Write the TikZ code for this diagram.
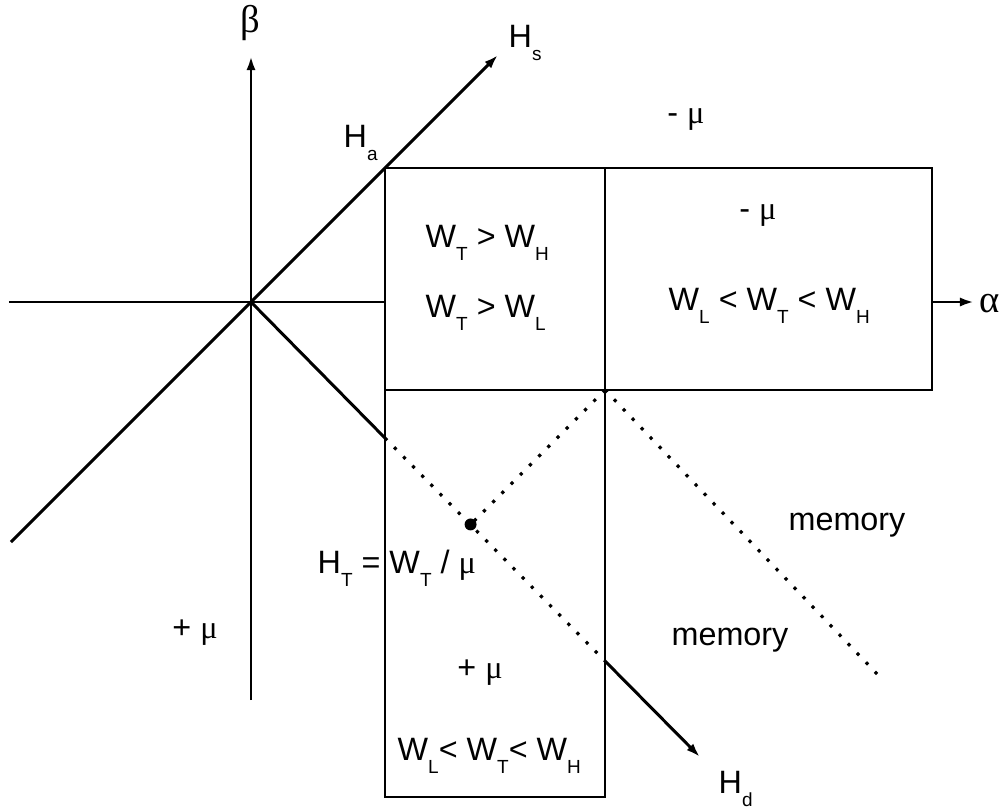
\documentclass[tikz,border=0pt]{standalone}
\usepackage{fontspec}
\setmainfont{Liberation Sans}
\newfontfamily\grk{Liberation Serif}
\usetikzlibrary{arrows.meta,positioning,calc}
\newcommand{\sbs}[1]{\raisebox{-3.9pt}{\fontsize{5.4}{6}\selectfont #1}}
\newcommand{\gmu}{{\grk μ}}
\tikzset{
  ax/.style={line width=0.85pt},
  axarr/.style={line width=0.85pt, -{Latex[length=4pt,width=2.6pt]}},
  wall/.style={line width=0.6pt},
  dotln/.style={line width=0.9pt, dash pattern=on 0.9pt off 2.8pt},
  lbl/.style={font=\fontsize{9.2}{11}\selectfont, inner sep=0pt},
  glbl/.style={font=\fontsize{11}{12}\selectfont\grk, inner sep=0pt},
}
\begin{document}
\begin{tikzpicture}[x=1cm,y=1cm]
\useasboundingbox (0,0) rectangle (10.04,8.07);
% axes and the two diagonals
\coordinate (O) at (2.51,5.05);
\coordinate (bbot) at (2.51,1.07);
\coordinate (btip) at (2.51,7.51);
\coordinate (aleft) at (0.09,5.05);
\coordinate (hslo) at (0.11,2.65);
\coordinate (hstip) at (4.98,7.52);
\coordinate (hdtip) at (7.0,0.50);
% region boxes
\coordinate (ca) at (3.85,6.39); \coordinate (cb) at (6.05,6.39); \coordinate (cc) at (9.32,6.39);
\coordinate (cd) at (3.85,4.17); \coordinate (ce) at (6.05,4.17); \coordinate (cf) at (9.32,4.17);
\coordinate (cg) at (3.85,0.10); \coordinate (ch) at (6.05,0.10);
\coordinate (axl) at (3.85,5.05); \coordinate (axr) at (9.32,5.05); \coordinate (atip) at (9.74,5.05);
\coordinate (hdin) at (3.85,3.69); \coordinate (hdout) at (6.05,1.46);
\coordinate (dl) at (3.85,1.97); \coordinate (mend) at (8.80,1.30);
\coordinate (HT) at (intersection of O--hdtip and ce--dl);
\draw[wall] (ca) rectangle (ce);
\draw[wall] (cb) rectangle (cf);
\draw[wall] (cd) rectangle (ch);
\draw[axarr] (bbot) -- (btip);
\draw[ax] (aleft) -- (axl);
\draw[axarr] (axr) -- (atip);
\draw[axarr] (hslo) -- (hstip);
\draw[ax] (O) -- (hdin);
\draw[dotln] (hdin) -- (hdout);
\draw[axarr] (hdout) -- (hdtip);
\draw[dotln] (ce) -- (HT);
\draw[dotln] (ce) -- (mend);
\fill (HT) circle (1.7pt);
% labels
\node[glbl] (beta) at (2.50,7.84) {β};
\node[glbl, anchor=west] (alpha) at (9.79,5.03) {α};
\node[lbl, anchor=base west] (hs) at (5.08,7.60) {H\sbs{s}};
\node[lbl, anchor=base west] (ha) at (3.43,6.60) {H\sbs{a}};
\node[lbl, anchor=base west] (hd) at (7.18,0.14) {H\sbs{d}};
\node[lbl] (mtop) at (6.86,6.87) {- \gmu};
\node[lbl] (mbox) at (7.58,5.91) {- \gmu};
\node[lbl, anchor=base west] (wh) at (4.25,5.60) {W\sbs{T} > W\sbs{H}};
\node[lbl, anchor=base west] (wl) at (4.25,4.90) {W\sbs{T} > W\sbs{L}};
\node[lbl, anchor=base west] (wmid) at (6.68,4.97) {W\sbs{L} < W\sbs{T} < W\sbs{H}};
\node[lbl, anchor=base west] (ht) at (3.17,2.34) {H\sbs{T} = W\sbs{T} / \gmu};
\node[lbl] (pbox) at (4.80,1.34) {+ \gmu};
\node[lbl] (pleft) at (1.95,1.74) {+ \gmu};
\node[lbl, anchor=base west] (wlow) at (3.97,0.47) {W\sbs{L}< W\sbs{T}< W\sbs{H}};
\node[lbl] (mem1) at (8.47,2.82) {memory};
\node[lbl] (mem2) at (7.30,1.67) {memory};
\end{tikzpicture}
\end{document}
